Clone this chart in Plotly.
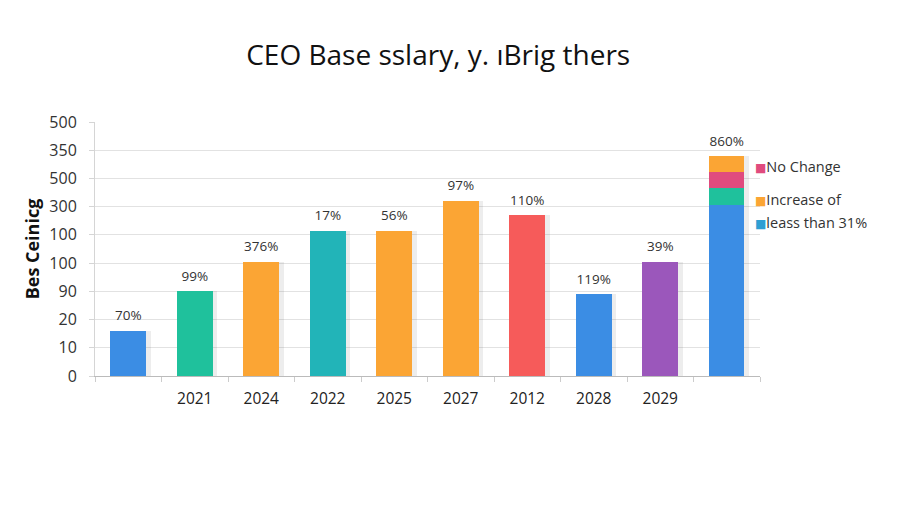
import plotly.graph_objects as go

# ---- data ----
y_tick_labels = ["0", "10", "20", "90", "100", "100", "300", "500", "350", "500"]
x_tick_labels = ["2021", "2024", "2022", "2025", "2027", "2012", "2028", "2029"]
bar_values = [1.6, 3.0, 4.05, 5.15, 5.15, 6.2, 5.7, 2.9, 4.05]
bar_labels = ["70%", "99%", "376%", "17%", "56%", "97%", "110%", "119%", "39%"]
bar_colors = ["#3b8de4", "#1fc19c", "#fba534", "#22b4b8", "#fba534",
              "#fba534", "#f65b5a", "#3b8de4", "#9b57bb"]
stack_names = ["leass than 31%", "", "No Change", "Increase of"]
stack_values = [6.05, 0.62, 0.57, 0.55]
stack_colors = ["#3b8de4", "#1fc19c", "#e04b7e", "#fba534"]
stack_label = "860%"
legend_items = [("No Change", "#e04b7e"), ("Increase of", "#fba534"),
                ("leass than 31%", "#2f9fd3")]

n_main = len(bar_values)
x_main = list(range(n_main))
x_stack = n_main
font_main = "Open Sans, DejaVu Sans, sans-serif"

fig = go.Figure()

# soft shadows
shadow_x = x_main + [x_stack]
shadow_y = bar_values + [sum(stack_values)]
fig.add_trace(go.Bar(x=shadow_x, y=shadow_y, width=0.54, offset=-0.2,
                     marker=dict(color="rgba(90,90,90,0.11)", line=dict(width=0)),
                     hoverinfo="skip", showlegend=False))

fig.add_trace(go.Bar(x=x_main, y=bar_values, width=0.54,
                     marker=dict(color=bar_colors, line=dict(width=0)),
                     showlegend=False))

base = 0.0
for name, v, c in zip(stack_names, stack_values, stack_colors):
    fig.add_trace(go.Bar(x=[x_stack], y=[v], base=[base], width=0.52,
                         marker=dict(color=c, line=dict(width=0)),
                         name=name, showlegend=False))
    base += v

# value labels (invisible markers push the text a little above the bars)
fig.add_trace(go.Scatter(x=x_main + [x_stack],
                         y=bar_values + [sum(stack_values)],
                         text=bar_labels + [stack_label],
                         mode="markers+text", textposition="top center",
                         marker=dict(size=10, opacity=0),
                         textfont=dict(size=13.5, color="#333333", family=font_main),
                         hoverinfo="skip", showlegend=False))

# legend as annotations
leg_y = [0.823, 0.693, 0.606]
for (txt, col), yy in zip(legend_items, leg_y):
    fig.add_annotation(xref="paper", yref="paper", x=0.99, y=yy,
                       xanchor="left", yanchor="middle", showarrow=False,
                       text=f"<span style='color:{col};font-size:12px'>■</span>{txt}",
                       font=dict(size=14.5, color="#333333", family=font_main))

fig.update_layout(
    width=900, height=506,
    margin=dict(l=87, r=148, t=114, b=138),
    paper_bgcolor="white", plot_bgcolor="white",
    barmode="overlay", bargap=0,
    title=dict(text="CEO Base sslary, y. ıBrig thers", x=0.478, y=0.907,
               xanchor="center", yanchor="middle",
               font=dict(size=28, color="#111111", family=font_main)),
    xaxis=dict(range=[-0.5, n_main + 0.5], tickvals=list(range(1, n_main)),
               ticktext=x_tick_labels, showgrid=False, ticks="",
               ticklabelstandoff=8,
               showline=True, linecolor="#bbbbbb", linewidth=1,
               tickfont=dict(size=15.5, color="#222222", family=font_main),
               minor=dict(tick0=0.5, dtick=1, ticks="outside", ticklen=5,
                          tickcolor="#cccccc", showgrid=False),
               zeroline=False),
    yaxis=dict(range=[0, 9], tickvals=list(range(len(y_tick_labels))),
               ticktext=y_tick_labels, showgrid=True, gridcolor="#e2e2e2",
               ticks="outside", ticklen=5, tickcolor="#d5d5d5",
               ticklabelstandoff=9,
               showline=True, linecolor="#d5d5d5", zeroline=False,
               tickfont=dict(size=16, color="#333333", family=font_main),
               title=dict(text="<b>Bes Ceinicg</b>", standoff=5,
                          font=dict(size=18, color="#111111", family=font_main))),
)

fig.write_html("out.html")
